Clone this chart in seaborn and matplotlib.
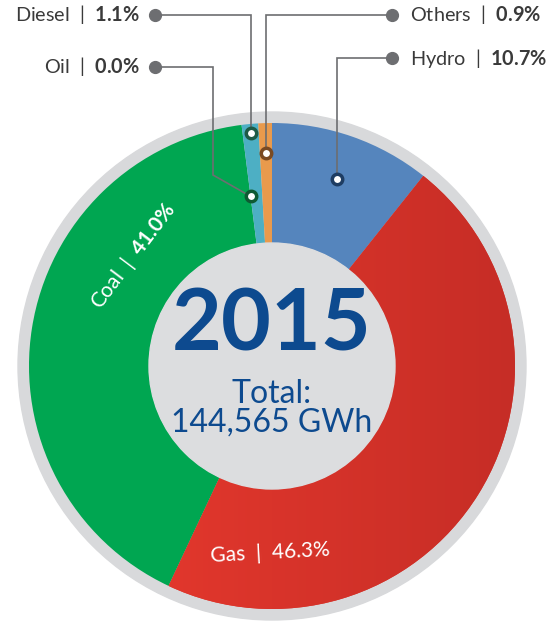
import numpy as np
import matplotlib
matplotlib.use('Agg')
import matplotlib.pyplot as plt
import seaborn as sns
from matplotlib.colors import LinearSegmentedColormap
from matplotlib.patches import Circle

# data
sources = ['Hydro', 'Gas', 'Coal', 'Oil', 'Diesel', 'Others']
shares = [10.7, 46.3, 41.0, 0.0, 1.1, 0.9]
colors = ['#5585BD', '#DC342A', '#00A651', '#00A651', '#4DAFC4', '#E99A4C']
year = '2015'
total_gwh = 144565

callout_sources = ['Diesel', 'Oil', 'Others', 'Hydro']
inside_sources = ['Coal', 'Gas']

# layout (pixels, y down)
W, H = 549, 624
cx, cy = 272, 366
r_gray, r_outer, r_inner = 254, 243, 123
callout_layout = {
    'Diesel': dict(side='left', row=15, radius=234, bend=None),
    'Oil': dict(side='left', row=67, radius=171, bend=(213, 175)),
    'Others': dict(side='right', row=15, radius=213, bend=None),
    'Hydro': dict(side='right', row=58, radius=198, bend=None),
}
marker_ring = {'Diesel': '#1D5B45', 'Oil': '#0E5A33', 'Others': '#7A4A22', 'Hydro': '#1E3D63'}
inside_layout = {
    'Coal': dict(x=134, y=256, rot=53, bold=True),
    'Gas': dict(x=270, y=553, rot=3, bold=False),
}

sns.set_theme(style='white')
plt.rcParams['font.family'] = ['Lato', 'DejaVu Sans']
plt.rcParams['mathtext.fontset'] = 'custom'
plt.rcParams['mathtext.rm'] = 'Lato'
plt.rcParams['mathtext.bf'] = 'Lato:bold'

fig = plt.figure(figsize=(W / 100, H / 100), dpi=100)
ax = fig.add_axes([0, 0, 1, 1])

ax.add_patch(Circle((cx, cy), r_gray, color='#D8D9DB', zorder=0))

# y axis is inverted, so counterclock in data space reads clockwise on screen
wedges, _ = ax.pie(shares, colors=colors, startangle=-90, counterclock=True,
                   radius=r_outer, center=(cx, cy),
                   wedgeprops=dict(width=r_outer - r_inner, linewidth=0))
for w in wedges:
    w.set_zorder(2)

# gradient on the gas slice
gas = wedges[sources.index('Gas')]
grad_cmap = LinearSegmentedColormap.from_list('gas', ['#EC3B2F', '#C62D26'])
img = ax.imshow(np.linspace(0, 1, 256)[None, :], cmap=grad_cmap, aspect='auto',
                extent=(cx - r_outer, cx + r_outer, cy + r_outer, cy - r_outer), zorder=3)
img.set_clip_path(gas)

ax.add_patch(Circle((cx, cy), r_inner, color='#DCDDDF', zorder=4))

# angles of each slice (clockwise from top, degrees)
cum = np.cumsum([0] + shares)
mid_deg = {s: (cum[i] + shares[i] / 2) * 3.6 for i, s in enumerate(sources)}

line_col = '#6D6E71'
text_col = '#3A3A3A'
for s in callout_sources:
    lay = callout_layout[s]
    a = np.deg2rad(mid_deg[s])
    mx = cx + lay['radius'] * np.sin(a)
    my = cy - lay['radius'] * np.cos(a)
    dot_x = 155 if lay['side'] == 'left' else 392
    row = lay['row']
    if lay['bend'] is None:
        xs, ys = [dot_x, mx, mx], [row, row, my]
    else:
        bx, by = lay['bend']
        xs, ys = [dot_x, bx, bx, mx], [row, row, by, my]
    ax.plot(xs, ys, color=line_col, lw=1.2, zorder=5, solid_joinstyle='miter')
    ax.plot(dot_x, row, 'o', color=line_col, ms=8.5, zorder=6)
    ax.plot(mx, my, 'o', mfc='white', mec=marker_ring[s], mew=2.5, ms=7.5, zorder=7)
    val = shares[sources.index(s)]
    label = s + r'  |  $\mathbf{' + f'{val:.1f}' + r'\%}$'
    if lay['side'] == 'left':
        ax.text(dot_x - 15, row, label, ha='right', va='center', fontsize=14.3, color=text_col)
    else:
        ax.text(dot_x + 18, row, label, ha='left', va='center', fontsize=14.3, color=text_col)

for s in inside_sources:
    lay = inside_layout[s]
    val = shares[sources.index(s)]
    if lay['bold']:
        label = s + r'  |  $\mathbf{' + f'{val:.1f}' + r'\%}$'
    else:
        label = f'{s}  |  {val:.1f}%'
    ax.text(lay['x'], lay['y'], label, ha='center', va='center', rotation=lay['rot'],
            rotation_mode='anchor', fontsize=15, color='white', zorder=8)

blue = '#0D4A8F'
ax.text(cx, 326, year, ha='center', va='center', fontsize=62, fontweight='bold', color=blue, zorder=8)
ax.text(cx, 394, 'Total:', ha='center', va='center', fontsize=23, color=blue, zorder=8)
ax.text(cx, 423, f'{total_gwh:,} GWh', ha='center', va='center', fontsize=23, color=blue, zorder=8)

ax.set_xlim(0, W)
ax.set_ylim(H, 0)
ax.set_aspect('equal')
ax.axis('off')

fig.savefig('out.png', dpi=100)
